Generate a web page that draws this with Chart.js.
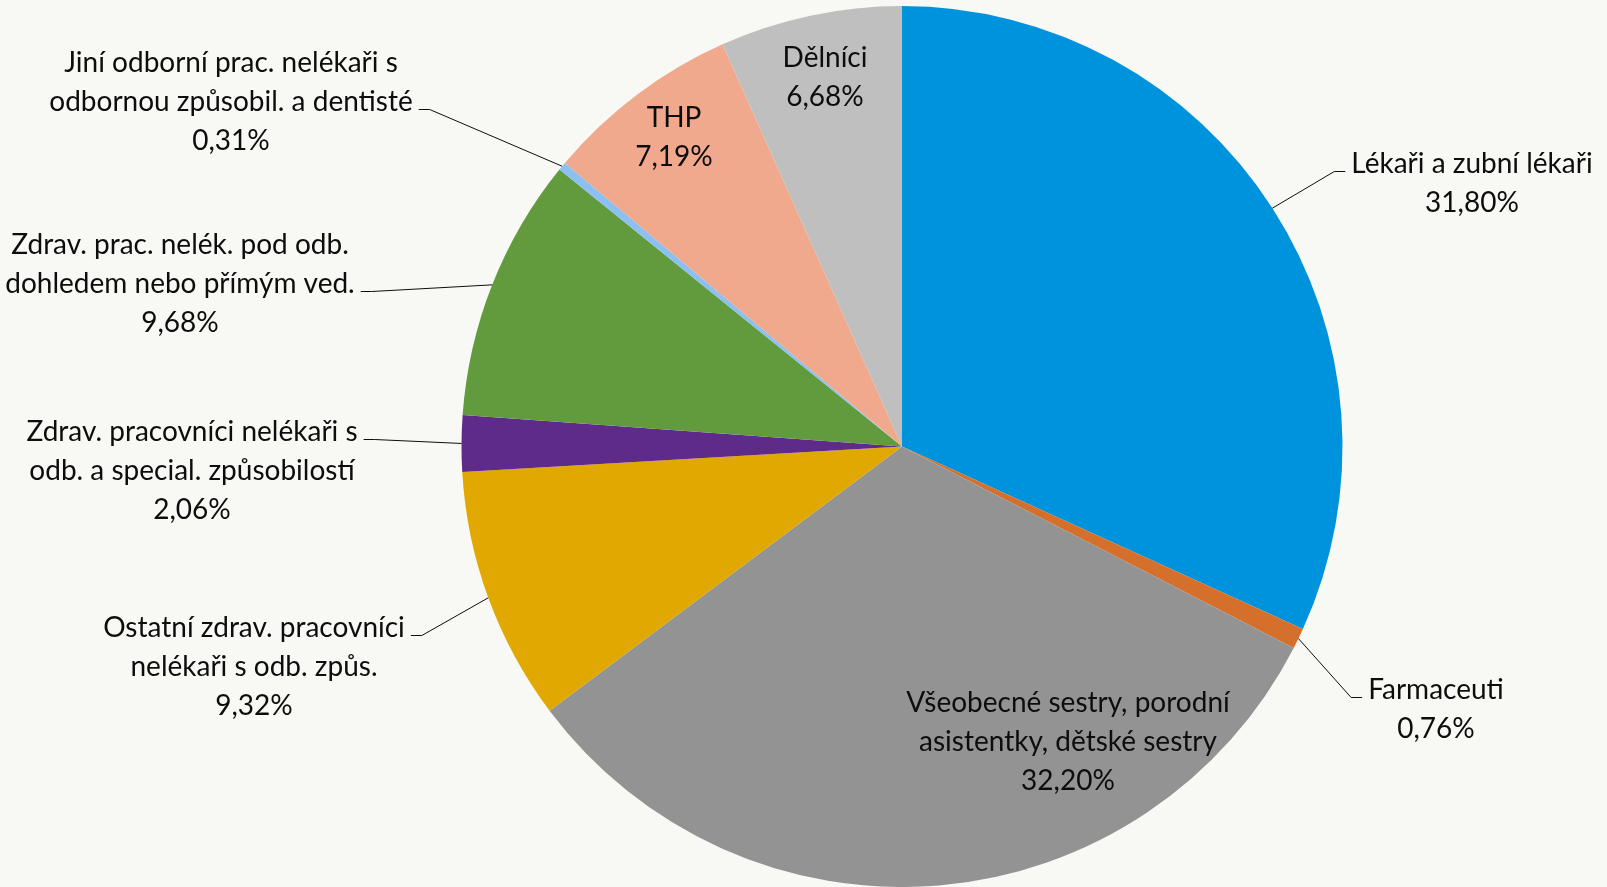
<!DOCTYPE html>
<html>
<head>
<meta charset="utf-8">
<script src="https://cdn.jsdelivr.net/npm/chart.js@4"></script>
<style>
    html, body { margin: 0; padding: 0; background: #f8f8f4; }
    #wrap { width: 1607px; height: 887px; }
</style>
</head>
<body>
<div id="wrap"><canvas id="pieChart" width="1607" height="887"></canvas></div>
<script>
const categories = [
    ['Lékaři a zubní lékaři'],
    ['Farmaceuti'],
    ['Všeobecné sestry, porodní', 'asistentky, dětské sestry'],
    ['Ostatní zdrav. pracovníci', 'nelékaři s odb. způs.'],
    ['Zdrav. pracovníci nelékaři s', 'odb. a special. způsobilostí'],
    ['Zdrav. prac. nelék. pod odb.', 'dohledem nebo přímým ved.'],
    ['Jiní odborní prac. nelékaři s', 'odbornou způsobil. a dentisté'],
    ['THP'],
    ['Dělníci']
];
const shares = [31.80, 0.76, 32.20, 9.32, 2.06, 9.68, 0.31, 7.19, 6.68];
const sliceColors = ['#0093dd', '#d4702c', '#939393', '#e0a800', '#5f2b8a', '#629a3e', '#8cc0f0', '#f0a98c', '#bfbfbf'];

// where each label sits, measured from the pie centre; lead = line the leader attaches to (-1 = no leader)
const labelSpots = [
    { dx: 570, dy: -283, lead: 0 },
    { dx: 534, dy: 243, lead: 0 },
    { dx: 166, dy: 256, lead: -1 },
    { dx: -648, dy: 181, lead: 0 },
    { dx: -710, dy: -15, lead: 0 },
    { dx: -722, dy: -202, lead: 1 },
    { dx: -671, dy: -384, lead: 1 },
    { dx: -228, dy: -329, lead: -1 },
    { dx: -77, dy: -389, lead: -1 }
];

const fontSize = 28;
const lineHeight = 39;

function formatShare(v) {
    return v.toFixed(2).replace('.', ',') + '%';
}

const labelPlugin = {
    id: 'sliceLabels',
    afterDatasetsDraw(chart) {
        const ctx = chart.ctx;
        const arcs = chart.getDatasetMeta(0).data;
        ctx.save();
        ctx.font = fontSize + 'px Lato';
        ctx.fillStyle = '#0d0d0d';
        ctx.textAlign = 'center';
        ctx.textBaseline = 'middle';
        ctx.strokeStyle = '#0d0d0d';
        ctx.lineWidth = 1;

        arcs.forEach(function (arc, i) {
            const p = arc.getProps(['x', 'y', 'startAngle', 'endAngle', 'outerRadius'], true);
            const spot = labelSpots[i];
            const cx = p.x + spot.dx;
            const cy = p.y + spot.dy;
            const lines = categories[i].concat([formatShare(shares[i])]);

            lines.forEach(function (line, k) {
                ctx.fillText(line, cx, cy + k * lineHeight);
            });

            if (spot.lead < 0) {
                return;
            }
            const mid = (p.startAngle + p.endAngle) / 2;
            const ax = p.x + Math.cos(mid) * p.outerRadius;
            const ay = p.y + Math.sin(mid) * p.outerRadius;
            const half = ctx.measureText(lines[spot.lead]).width / 2;
            const ly = cy + spot.lead * lineHeight + 8;
            const side = spot.dx > 0 ? -1 : 1;
            const x1 = cx + side * (half + 6);
            const x2 = x1 + side * 11;

            ctx.beginPath();
            ctx.moveTo(x1, ly);
            ctx.lineTo(x2, ly);
            ctx.lineTo(ax, ay);
            ctx.stroke();
        });
        ctx.restore();
    }
};

new Chart(document.getElementById('pieChart').getContext('2d'), {
    type: 'pie',
    data: {
        labels: categories.map(function (c) { return c.join(' '); }),
        datasets: [{
            data: shares,
            backgroundColor: sliceColors,
            borderWidth: 0
        }]
    },
    options: {
        responsive: false,
        animation: false,
        layout: { padding: { left: 197, top: 6, right: 0, bottom: 0 } },
        plugins: {
            legend: { display: false },
            tooltip: { enabled: false }
        }
    },
    plugins: [labelPlugin]
});
</script>
</body>
</html>
